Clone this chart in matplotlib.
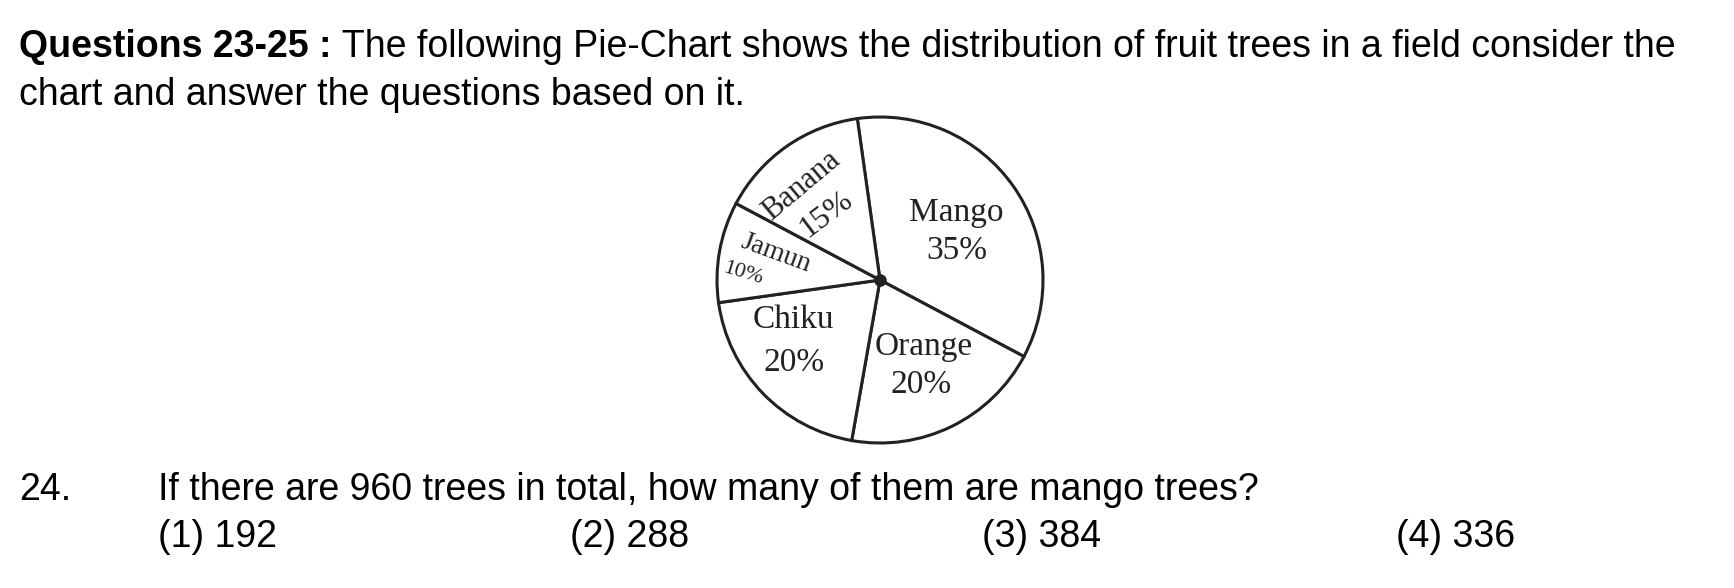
"""Pie chart of fruit trees in a field, laid out as an exam question."""

import matplotlib
matplotlib.use("Agg")
import matplotlib.pyplot as plt

FRUITS = ["Mango", "Orange", "Chiku", "Jamun", "Banana"]
SHARES = [35, 20, 20, 10, 15]

HEADER_BOLD = "Questions 23-25 :"
HEADER_LINE1 = " The following Pie-Chart shows the distribution of fruit trees in a field consider the"
HEADER_LINE2 = "chart and answer the questions based on it."
QUESTION_NO = "24."
QUESTION = "If there are 960 trees in total, how many of them are mango trees?"
OPTIONS = ["(1) 192", "(2) 288", "(3) 384", "(4) 336"]

W, H = 1734, 588
SANS = "Liberation Sans"
SERIF = "Liberation Serif"
INK = "#222222"
FS = 27


def fy(py):
    return 1 - py / H


def main():
    fig = plt.figure(figsize=(W / 100, H / 100), dpi=100)
    fig.patch.set_facecolor("white")

    # header text
    bold = fig.text(19 / W, fy(57), HEADER_BOLD, fontsize=FS, fontweight="bold",
                    family=SANS, va="baseline", ha="left")
    fig.canvas.draw()
    bb = bold.get_window_extent()
    fig.text(bb.x1 / W, fy(57), HEADER_LINE1, fontsize=FS, family=SANS,
             va="baseline", ha="left")
    fig.text(19 / W, fy(105), HEADER_LINE2, fontsize=FS, family=SANS,
             va="baseline", ha="left")

    # pie: centre (880, 280) px, radius 163 px
    cx, cy, r = 880, 280, 163
    half = 190
    ax = fig.add_axes([(cx - half) / W, (H - cy - half) / H, 2 * half / W, 2 * half / H])
    lim = half / r
    ax.pie(SHARES, radius=1, startangle=98, counterclock=False,
           wedgeprops=dict(facecolor="white", edgecolor=INK, linewidth=2.2))
    ax.set_xlim(-lim, lim)
    ax.set_ylim(-lim, lim)
    ax.set_aspect("equal")
    ax.axis("off")
    ax.plot(0, 0, "o", color=INK, markersize=8)

    labels = [
        (FRUITS[0], 0.47, 0.41, 0, 24),
        (f"{SHARES[0]}%", 0.47, 0.18, 0, 24),
        (FRUITS[1], 0.27, -0.41, 0, 24),
        (f"{SHARES[1]}%", 0.25, -0.64, 0, 24),
        (FRUITS[2], -0.53, -0.245, 0, 24),
        (f"{SHARES[2]}%", -0.53, -0.51, 0, 24),
        (FRUITS[3], -0.64, 0.165, -20, 20),
        (f"{SHARES[3]}%", -0.84, 0.04, -17, 16),
        (FRUITS[4], -0.48, 0.58, 40, 22),
        (f"{SHARES[4]}%", -0.33, 0.40, 37, 23),
    ]
    for text, x, y, rot, size in labels:
        ax.text(x, y, text, ha="center", va="center", rotation=rot,
                fontsize=size, family=SERIF, color=INK)

    # question and options
    fig.text(19 / W, fy(500), QUESTION_NO, fontsize=FS, family=SANS, va="baseline")
    fig.text(158 / W, fy(500), QUESTION, fontsize=FS, family=SANS, va="baseline")
    for text, px in zip(OPTIONS, [158, 570, 982, 1396]):
        fig.text(px / W, fy(547), text, fontsize=FS, family=SANS, va="baseline")

    fig.savefig("out.png", dpi=100)


if __name__ == "__main__":
    main()
